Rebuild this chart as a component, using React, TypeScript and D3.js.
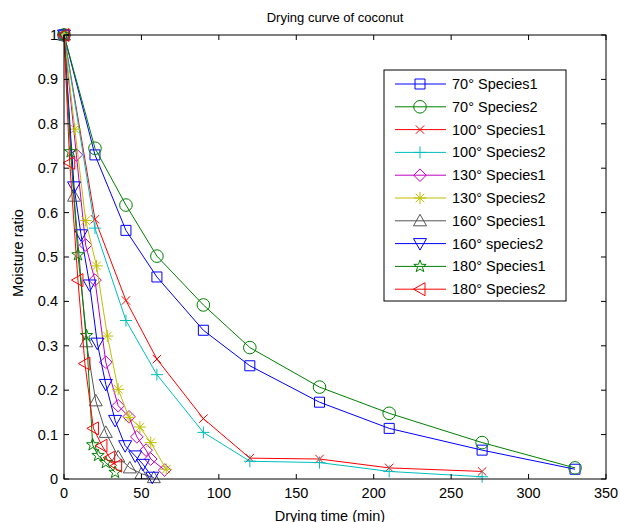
import React from "react";
import * as d3 from "d3";

// drying time (min) and moisture ratio per run
const t70 = [0, 20, 40, 60, 90, 120, 165, 210, 270, 330];
const mr70s1 = [1, 0.73, 0.56, 0.455, 0.335, 0.255, 0.173, 0.114, 0.065, 0.022];
const mr70s2 = [1, 0.745, 0.617, 0.502, 0.392, 0.296, 0.207, 0.148, 0.082, 0.025];

const t100 = [0, 20, 40, 60, 90, 120, 165, 210, 270];
const mr100s1 = [1, 0.585, 0.402, 0.27, 0.136, 0.047, 0.045, 0.025, 0.017];
const mr100s2 = [1, 0.565, 0.357, 0.235, 0.105, 0.04, 0.037, 0.017, 0.005];

const t130s1 = [0, 8, 14, 20, 27, 35, 42, 47, 53, 56, 65];
const mr130s1 = [1, 0.73, 0.527, 0.448, 0.263, 0.165, 0.14, 0.095, 0.065, 0.045, 0.02];
const t130s2 = [0, 7, 14, 21, 28, 35, 42, 49, 56, 66];
const mr130s2 = [1, 0.788, 0.582, 0.48, 0.322, 0.202, 0.139, 0.117, 0.082, 0.022];

const t160s1 = [0, 6.5, 14.4, 20.5, 27, 35, 42.5, 50, 58];
const mr160s1 = [1, 0.637, 0.309, 0.176, 0.105, 0.05, 0.025, 0.012, 0.003];
const t160s2 = [0, 6.5, 11, 16.6, 21.5, 27, 33, 39.5, 46, 51, 57];
const mr160s2 = [1, 0.658, 0.55, 0.437, 0.306, 0.213, 0.132, 0.075, 0.052, 0.033, 0.004];

const t180s1 = [0, 4.3, 9, 14.5, 18.5, 22, 27, 33];
const mr180s1 = [1, 0.737, 0.505, 0.323, 0.077, 0.053, 0.037, 0.015];
const t180s2 = [0, 3.7, 9, 13.5, 19, 24.5, 29.5, 34];
const mr180s2 = [1, 0.712, 0.448, 0.26, 0.114, 0.075, 0.048, 0.03];

const labels = [
  "70° Species1", "70° Species2", "100° Species1", "100° Species2", "130° Species1",
  "130° Species2", "160° Species1", "160° species2", "180° Species1", "180° Species2",
];
const colors = [
  "#0000ff", "#008000", "#ff0000", "#00bfbf", "#bf00bf",
  "#bfbf00", "#555555", "#0000ff", "#008000", "#ff0000",
];
const markers = ["s", "o", "x", "+", "d", "*", "^", "v", "p", "<"];

const xTicks = [0, 50, 100, 150, 200, 250, 300, 350];
const yTicks = [0, 0.1, 0.2, 0.3, 0.4, 0.5, 0.6, 0.7, 0.8, 0.9, 1];

const series = [
  [t70, mr70s1], [t70, mr70s2], [t100, mr100s1], [t100, mr100s2], [t130s1, mr130s1],
  [t130s2, mr130s2], [t160s1, mr160s1], [t160s2, mr160s2], [t180s1, mr180s1], [t180s2, mr180s2],
];

const W = 620, H = 522;
const left = 64, right = 606, top = 35, bottom = 479;
const FONT = "Liberation Sans, Arial, sans-serif";
const FS = 14.5;

function markerPath(m: string, cx: number, cy: number): string {
  const p = d3.path();
  if (m === "s") {
    p.rect(cx - 5, cy - 5, 10, 10);
  } else if (m === "o") {
    p.moveTo(cx + 6.3, cy);
    p.arc(cx, cy, 6.3, 0, Math.PI * 2);
  } else if (m === "x") {
    const h = 4.2;
    p.moveTo(cx - h, cy - h); p.lineTo(cx + h, cy + h);
    p.moveTo(cx - h, cy + h); p.lineTo(cx + h, cy - h);
  } else if (m === "+") {
    const h = 6;
    p.moveTo(cx - h, cy); p.lineTo(cx + h, cy);
    p.moveTo(cx, cy - h); p.lineTo(cx, cy + h);
  } else if (m === "*") {
    const h = 6, k = 4.3;
    p.moveTo(cx - h, cy); p.lineTo(cx + h, cy);
    p.moveTo(cx, cy - h); p.lineTo(cx, cy + h);
    p.moveTo(cx - k, cy - k); p.lineTo(cx + k, cy + k);
    p.moveTo(cx - k, cy + k); p.lineTo(cx + k, cy - k);
  } else if (m === "d") {
    const h = 6.3;
    p.moveTo(cx, cy - h); p.lineTo(cx + h, cy); p.lineTo(cx, cy + h); p.lineTo(cx - h, cy); p.closePath();
  } else if (m === "^") {
    p.moveTo(cx, cy - 6.5); p.lineTo(cx + 6.5, cy + 5); p.lineTo(cx - 6.5, cy + 5); p.closePath();
  } else if (m === "v") {
    p.moveTo(cx, cy + 6.5); p.lineTo(cx + 6.5, cy - 5); p.lineTo(cx - 6.5, cy - 5); p.closePath();
  } else if (m === "<") {
    p.moveTo(cx - 6.5, cy); p.lineTo(cx + 5, cy - 6.5); p.lineTo(cx + 5, cy + 6.5); p.closePath();
  } else if (m === "p") {
    const R = 6.5, r = 2.6;
    for (let i = 0; i < 10; i++) {
      const a = -Math.PI / 2 + (i * Math.PI) / 5;
      const rr = i % 2 === 0 ? R : r;
      const x = cx + rr * Math.cos(a), y = cy + rr * Math.sin(a);
      if (i === 0) p.moveTo(x, y); else p.lineTo(x, y);
    }
    p.closePath();
  }
  return p.toString();
}

export default function App() {
  const x = d3.scaleLinear().domain([0, 350]).range([left, right]);
  const y = d3.scaleLinear().domain([0, 1]).range([bottom, top]);
  const line = d3.line<[number, number]>().x(d => x(d[0])).y(d => y(d[1]));

  const legX = 384, legY = 70, legW = 182, legH = 231;
  const rowH = 22.8;

  return (
    <svg width={W} height={H} style={{ position: "absolute", left: 0, top: 0, background: "#fff" }}
      fontFamily={FONT}>
      <rect x={0} y={0} width={W} height={H} fill="#fff" />
      <text x={(left + right) / 2} y={22} textAnchor="middle" fontSize={13}>Drying curve of coconut</text>

      {series.map(([ts, vs], i) => {
        const pts = ts.map((t, j) => [t, vs[j]] as [number, number]);
        return (
          <g key={i} stroke={colors[i]} fill="none" strokeWidth={1}>
            <path d={line(pts) || ""} />
            {pts.map((d, j) => (
              <path key={j} d={markerPath(markers[i], x(d[0]), y(d[1]))} />
            ))}
          </g>
        );
      })}

      {/* axes box and ticks */}
      <rect x={left} y={top} width={right - left} height={bottom - top} fill="none" stroke="#000" strokeWidth={1} />
      {xTicks.map(t => (
        <g key={"x" + t}>
          <line x1={x(t)} x2={x(t)} y1={bottom} y2={bottom - 5} stroke="#000" />
          <line x1={x(t)} x2={x(t)} y1={top} y2={top + 5} stroke="#000" />
          <text x={x(t)} y={bottom + 19} textAnchor="middle" fontSize={FS}>{t}</text>
        </g>
      ))}
      {yTicks.map(t => (
        <g key={"y" + t}>
          <line x1={left} x2={left + 5} y1={y(t)} y2={y(t)} stroke="#000" />
          <line x1={right} x2={right - 5} y1={y(t)} y2={y(t)} stroke="#000" />
          <text x={left - 6} y={y(t) + 5} textAnchor="end" fontSize={FS}>{String(t)}</text>
        </g>
      ))}
      <text x={330} y={521} textAnchor="middle" fontSize={FS}>Drying time (min)</text>
      <text transform={`translate(23,${(top + bottom) / 2 - 4}) rotate(-90)`} textAnchor="middle" fontSize={FS}>Moisture ratio</text>

      {/* legend */}
      <rect x={legX} y={legY} width={legW} height={legH} fill="#fff" stroke="#000" strokeWidth={1} />
      {labels.map((lab, i) => {
        const cy = legY + 14 + i * rowH;
        return (
          <g key={lab}>
            <g stroke={colors[i]} fill="none" strokeWidth={1}>
              <line x1={legX + 11} x2={legX + 62} y1={cy} y2={cy} />
              <path d={markerPath(markers[i], legX + 36, cy)} />
            </g>
            <text x={legX + 68} y={cy + 5} fontSize={FS}>{lab}</text>
          </g>
        );
      })}
    </svg>
  );
}
